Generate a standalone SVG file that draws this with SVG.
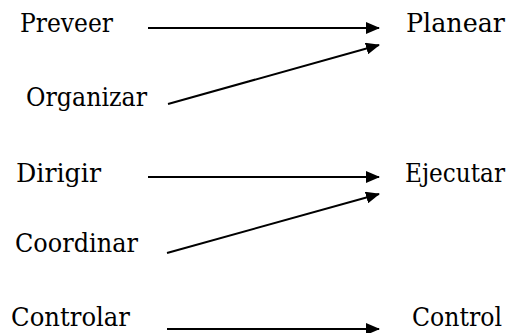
<svg xmlns="http://www.w3.org/2000/svg" width="513" height="333" viewBox="0 0 513 333">
  <style>
    text { font-family: 'DejaVu Serif', serif; font-size: 26px; fill: #000; }
    .edge { stroke: #000; stroke-width: 2; fill: none; marker-end: url(#head); }
  </style>
  <defs>
    <marker id="head" markerUnits="userSpaceOnUse" markerWidth="14" markerHeight="12" refX="13" refY="6" orient="auto">
      <path d="M0,0 L14,6 L0,12 z" fill="#000"/>
    </marker>
  </defs>
  <rect width="513" height="333" fill="#fff"/>

  <g id="preveer"><text x="20" y="32" textLength="93" lengthAdjust="spacingAndGlyphs">Preveer</text></g>
  <g id="planear"><text x="406" y="32" textLength="99" lengthAdjust="spacingAndGlyphs">Planear</text></g>
  <g id="organizar"><text x="26" y="106" textLength="121" lengthAdjust="spacingAndGlyphs">Organizar</text></g>
  <g id="dirigir"><text x="16" y="182" textLength="85" lengthAdjust="spacingAndGlyphs">Dirigir</text></g>
  <g id="ejecutar"><text x="405" y="182" textLength="100" lengthAdjust="spacingAndGlyphs">Ejecutar</text></g>
  <g id="coordinar"><text x="15" y="252" textLength="123" lengthAdjust="spacingAndGlyphs">Coordinar</text></g>
  <g id="controlar"><text x="11" y="326" textLength="119" lengthAdjust="spacingAndGlyphs">Controlar</text></g>
  <g id="control"><text x="412" y="326" textLength="90" lengthAdjust="spacingAndGlyphs">Control</text></g>

  <g id="connectors">
    <line class="edge" x1="148" y1="28" x2="379" y2="28"/>
    <line class="edge" x1="168" y1="104" x2="379" y2="45"/>
    <line class="edge" x1="148" y1="177" x2="379" y2="177"/>
    <line class="edge" x1="167" y1="253" x2="379" y2="194"/>
    <line class="edge" x1="167" y1="329" x2="379" y2="329"/>
  </g>
</svg>
